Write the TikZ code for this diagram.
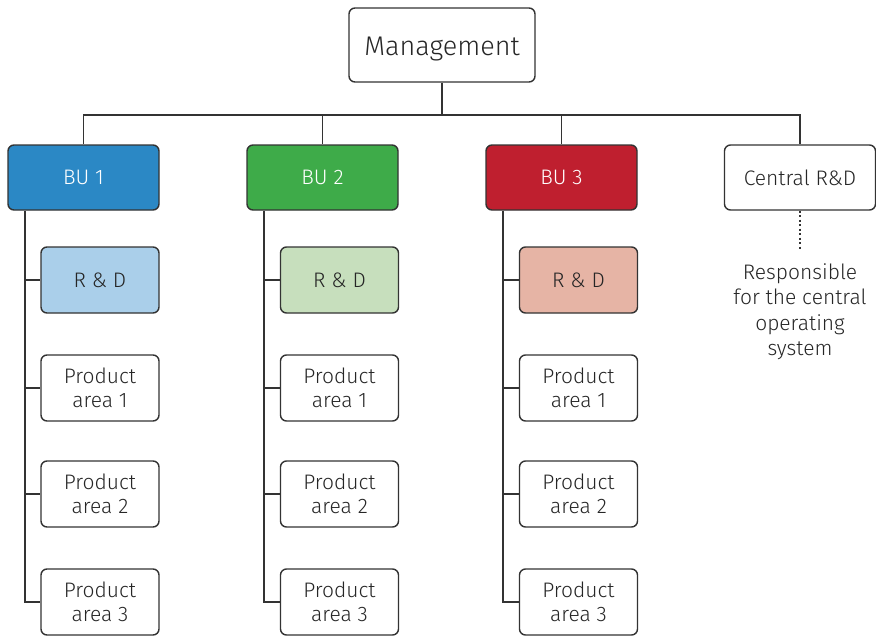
\documentclass[tikz,border=0pt]{standalone}
\usepackage{fontspec}
\setmainfont{Fira Sans}[UprightFont=* Light]
\begin{document}
\begin{tikzpicture}[x=1pt,y=-1pt,
  every node/.style={font=\fontsize{21}{24}\selectfont, text=black!85},
  box/.style={draw=black!80, line width=1.4pt, rounded corners=6pt,
    minimum width=118pt, minimum height=66pt, align=center, inner sep=0pt},
  bubox/.style={box, minimum width=151pt, minimum height=65pt, text=white},
  link/.style={draw=black!80, line width=1.4pt},
  dotlink/.style={draw=black!80, line width=1.4pt, dash pattern=on 2pt off 2.5pt}]
\definecolor{bublue}{HTML}{2B88C5}
\definecolor{bugreen}{HTML}{3EAB49}
\definecolor{bured}{HTML}{BF1F2F}
\definecolor{rdblue}{HTML}{AACFEA}
\definecolor{rdgreen}{HTML}{C7DFBD}
\definecolor{rdred}{HTML}{E6B4A5}
\useasboundingbox (0,0) rectangle (876,637);

% top level
\node[box, minimum width=186pt, minimum height=74pt, text height=24pt, text depth=4pt,
  font=\fontsize{27}{30}\selectfont] (mgmt) at (442,45) {Management};
\coordinate (bus) at (442,115);

% business units and central R&D
\node[bubox, fill=bublue] (bu1) at (83.5,177.5) {BU 1};
\node[bubox, fill=bugreen] (bu2) at (322.5,177.5) {BU 2};
\node[bubox, fill=bured] (bu3) at (561.5,177.5) {BU 3};
\node[bubox, fill=white, text=black!85] (crd) at (800,177.5) {Central R\&D};

\draw[link] (mgmt.south) -- (bus);
\draw[link] (bu1.north) |- (bus) -| (crd.north);
\draw[link] (bu2.north) -- ++(0,-30);
\draw[link] (bu3.north) -- ++(0,-30);

% central R&D note
\coordinate (noteTop) at (800,250);
\draw[dotlink] (crd.south) -- (noteTop);
\node[align=center, anchor=north, inner sep=0pt, font=\fontsize{21}{25.5}\selectfont] (note) at (800,263)
  {Responsible\\for the central\\operating\\system};

% units below each BU
\foreach \i/\cx/\rdc in {1/100/rdblue, 2/339.5/rdgreen, 3/578.5/rdred}{
  \node[box, fill=\rdc] (rd\i) at (\cx,280) {R \& D};
  \node[box] (pa\i a) at (\cx,388) {Product\\area 1};
  \node[box] (pa\i b) at (\cx,494) {Product\\area 2};
  \node[box] (pa\i c) at (\cx,602) {Product\\area 3};
}
\foreach \i in {1,2,3}{
  \draw[link] ([xshift=-58.5pt]bu\i.south) |- (pa\i c.west);
  \draw[link] ([xshift=-58.5pt]bu\i.south |- rd\i.west) -- (rd\i.west);
  \draw[link] ([xshift=-58.5pt]bu\i.south |- pa\i a.west) -- (pa\i a.west);
  \draw[link] ([xshift=-58.5pt]bu\i.south |- pa\i b.west) -- (pa\i b.west);
}
\end{tikzpicture}
\end{document}
